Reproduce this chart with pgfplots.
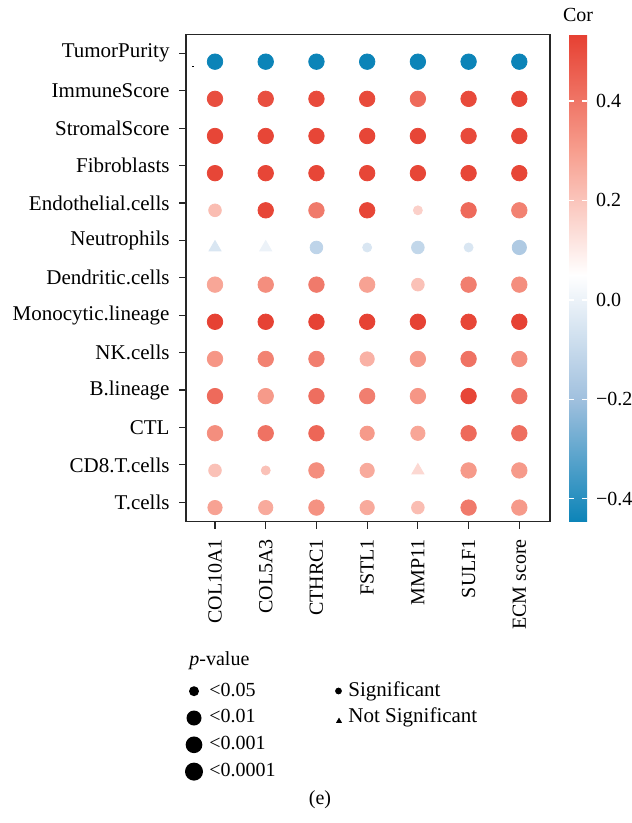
\documentclass[border=0pt]{standalone}
\usepackage{fontspec}
\setmainfont{Liberation Serif}
\usepackage{pgfplots}
\usepackage{pgfplotstable}
\pgfplotsset{compat=1.18}

% Correlation of each gene (x) with each score / cell population (y)
% x: 1 COL10A1, 2 COL5A3, 3 CTHRC1, 4 FSTL1, 5 MMP11, 6 SULF1, 7 ECM score
% y: 13 TumorPurity, 12 ImmuneScore, 11 StromalScore, 10 Fibroblasts,
%     9 Endothelial.cells, 8 Neutrophils, 7 Dendritic.cells, 6 Monocytic.lineage,
%     5 NK.cells, 4 B.lineage, 3 CTL, 2 CD8.T.cells, 1 T.cells
% lvl: p-value class, 1 <0.05, 2 <0.01, 3 <0.001, 4 <0.0001
\pgfplotstableread{
x y cor lvl
1 13 -0.45 4
2 13 -0.45 4
3 13 -0.45 4
4 13 -0.45 4
5 13 -0.45 4
6 13 -0.45 4
7 13 -0.45 4
1 12 0.50 4
2 12 0.50 4
3 12 0.51 4
4 12 0.51 4
5 12 0.43 4
6 12 0.51 4
7 12 0.52 4
1 11 0.52 4
2 11 0.52 4
3 11 0.52 4
4 11 0.52 4
5 11 0.52 4
6 11 0.51 4
7 11 0.52 4
1 10 0.52 4
2 10 0.52 4
3 10 0.52 4
4 10 0.52 4
5 10 0.52 4
6 10 0.52 4
7 10 0.52 4
1 9 0.22 2
2 9 0.52 4
3 9 0.39 4
4 9 0.52 4
5 9 0.17 1
6 9 0.43 4
7 9 0.37 4
3 8 -0.12 2
4 8 -0.05 1
5 8 -0.11 2
6 8 -0.05 1
7 8 -0.16 3
1 7 0.28 4
2 7 0.34 4
3 7 0.39 4
4 7 0.29 4
5 7 0.21 2
6 7 0.38 4
7 7 0.34 4
1 6 0.53 4
2 6 0.53 4
3 6 0.53 4
4 6 0.53 4
5 6 0.53 4
6 6 0.52 4
7 6 0.53 4
1 5 0.32 4
2 5 0.37 4
3 5 0.38 4
4 5 0.25 3
5 5 0.31 4
6 5 0.41 4
7 5 0.34 4
1 4 0.43 4
2 4 0.31 4
3 4 0.42 4
4 4 0.38 4
5 4 0.32 4
6 4 0.52 4
7 4 0.41 4
1 3 0.34 4
2 3 0.41 4
3 3 0.44 4
4 3 0.31 3
5 3 0.28 3
6 3 0.43 4
7 3 0.42 4
1 2 0.21 2
2 2 0.21 1
3 2 0.34 4
4 2 0.27 3
6 2 0.31 4
7 2 0.31 4
1 1 0.29 3
2 1 0.27 3
3 1 0.33 4
4 1 0.27 3
5 1 0.22 2
6 1 0.39 4
7 1 0.31 4
}\sigtab

% pairs that are not significant
\pgfplotstableread{
x y cor
1 8 -0.05
2 8 0.00
5 2 0.15
}\nstab

% diverging scale: blue (-0.446) -- white (0.05) -- red (0.534), positions in thousandths
\pgfplotsset{
  colormap={cor}{
    rgb255(0pt)=(12,132,184);
    rgb255(246pt)=(160,192,222);
    rgb255(496pt)=(255,255,255);
    rgb255(746pt)=(247,158,142);
    rgb255(980pt)=(230,64,50)}
}

\begin{document}
\begin{tikzpicture}
\useasboundingbox (0,0) rectangle (315.5pt,-411.5pt);

\begin{axis}[
  at={(93pt,-260.85pt)}, anchor=south west,
  scale only axis, width=182pt, height=243.7pt,
  xmin=0.428, xmax=7.605, ymin=0.62, ymax=13.737,
  axis line style={black!85, line width=0.6pt},
  tick align=outside, tick pos=left,
  major tick length=3.5pt,
  tick style={black!85, line width=0.6pt},
  xtick={1,2,3,4,5,6,7},
  xticklabels={COL10A1,COL5A3,CTHRC1,FSTL1,MMP11,SULF1,ECM score},
  xticklabel style={rotate=90, anchor=east},
  xticklabel shift=1.7pt,
  ytick={1.142,2.149,3.156,4.163,5.170,6.177,7.184,8.191,9.198,10.205,11.212,12.219,13.226},
  yticklabels={T.cells,CD8.T.cells,CTL,B.lineage,NK.cells,Monocytic.lineage,Dendritic.cells,Neutrophils,Endothelial.cells,Fibroblasts,StromalScore,ImmuneScore,TumorPurity},
  yticklabel style={font=\fontsize{10.5}{12}\selectfont},
  yticklabel shift=1.2pt,
  colormap name=cor,
  point meta min=-0.446, point meta max=0.534,
  colorbar,
  colorbar style={
    at={(parent axis.north east)}, anchor=north west, xshift=1pt,
    width=9pt,
    axis line style={draw=none},
    ytick={-0.4,-0.2,0,0.2,0.4},
    yticklabels={−0.4,−0.2,0.0,0.2,0.4},
    ytick pos=both, yticklabel pos=right,
    tick align=inside,
    major tick length=2.5pt,
    tick style={draw=white, line width=0.7pt},
    yticklabel shift=1pt,
    title=Cor,
    title style={yshift=-3pt},
  },
]
\addplot[scatter, only marks, mark=*,
  point meta=\thisrow{cor},
  scatter/use mapped color={draw=mapped color, fill=mapped color},
  visualization depends on={ifthenelse(\thisrow{lvl}==1,2.25,ifthenelse(\thisrow{lvl}==2,3.17,ifthenelse(\thisrow{lvl}==3,3.58,3.87))) \as \rad},
  scatter/@pre marker code/.append style={/tikz/mark size=\rad pt},
] table[x=x, y=y] {\sigtab};
\addplot[scatter, only marks, mark=triangle*, mark size=3.46pt,
  point meta=\thisrow{cor},
  scatter/use mapped color={draw=mapped color, fill=mapped color},
] table[x=x, y=y] {\nstab};
\draw[black, line width=0.5pt] (axis cs:0.55,12.857) -- (axis cs:0.58,12.857);
\end{axis}

% p-value size key
\node[anchor=base west, inner sep=0pt] at (94.5pt,-332.5pt) {\textit{p}-value};
\fill (97pt,-345.6pt) circle (2.5pt);
\fill (97pt,-359pt) circle (3.75pt);
\fill (97pt,-372.4pt) circle (4.17pt);
\fill (97pt,-385.8pt) circle (4.5pt);
\node[anchor=base west, inner sep=0pt] at (104.5pt,-348pt) {<0.05};
\node[anchor=base west, inner sep=0pt] at (104.5pt,-361.4pt) {<0.01};
\node[anchor=base west, inner sep=0pt] at (104.5pt,-374.8pt) {<0.001};
\node[anchor=base west, inner sep=0pt] at (104.5pt,-388.2pt) {<0.0001};

% shape key
\fill (169.25pt,-345.5pt) circle (1.7pt);
\node[anchor=base west, inner sep=0pt, font=\fontsize{10.5}{12}\selectfont] at (174pt,-348pt) {Significant};
\fill (169.5pt,-361.4pt) -- ++(1.5pt,0) -- ++(-1.5pt,2.6pt) -- ++(-1.5pt,-2.6pt) -- cycle;
\node[anchor=base west, inner sep=0pt, font=\fontsize{10.5}{12}\selectfont] at (174pt,-361.4pt) {Not Significant};

\node at (160pt,-400pt) {(e)};
\end{tikzpicture}
\end{document}
